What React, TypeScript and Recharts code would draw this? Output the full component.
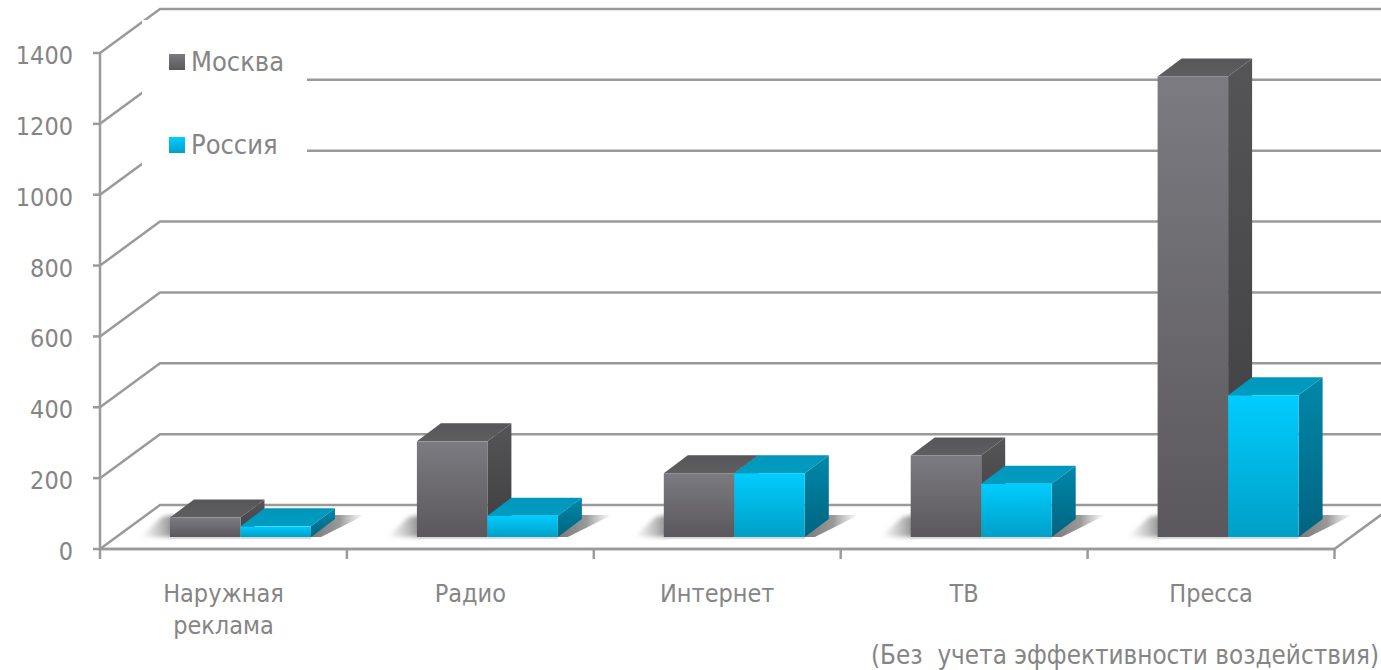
import { Bar, BarChart, CartesianGrid, Legend, XAxis, YAxis } from "recharts";

const categories = ["Наружная реклама", "Радио", "Интернет", "ТВ", "Пресса"];
const moscowValues = [55, 270, 180, 230, 1300];
const russiaValues = [30, 60, 180, 150, 400];
const yTicks = [0, 200, 400, 600, 800, 1000, 1200, 1400];

const data = categories.map((name, i) => ({
  name,
  moscow: moscowValues[i],
  russia: russiaValues[i],
}));

const FONT = "'DejaVu Sans Condensed', 'DejaVu Sans', sans-serif";
const TEXT = "#858585";
const LINE = "#9a9a9a";

// depth of the walls behind the plot
const WALL_DX = 60;
const WALL_DY = 44;
// bar box projection and where it stands on the floor
const BOX_DX = 24;
const BOX_DY = 18;
const SHIFT_X = 17;
const SHIFT_Y = 12;

type BoxProps = { x: number; y: number; width: number; height: number };

function box(id: string, side: "left" | "right") {
  return function Box3D({ x, y, width, height }: BoxProps) {
    const l = x + SHIFT_X;
    const r = l + width;
    const t = y - SHIFT_Y;
    const b = t + height;
    return (
      <g>
        {side === "left" ? (
          <polygon
            points={`${l + 4},${b} ${l - 30},${b} ${l - 8},${b - 20} ${l + 4},${b - 22}`}
            fill="url(#shadowLeft)"
            filter="url(#soften)"
          />
        ) : (
          <polygon
            points={`${r - 2},${b} ${r + BOX_DX - 2},${b - 22} ${r + BOX_DX + 30},${b - 22} ${r + 10},${b}`}
            fill="url(#shadowRight)"
          />
        )}
        <rect x={l} y={b} width={width} height={2} fill="#d9d9d9" />
        <polygon
          points={`${l},${t} ${l + BOX_DX},${t - BOX_DY} ${r + BOX_DX},${t - BOX_DY} ${r},${t}`}
          fill={`url(#${id}Top)`}
        />
        <polygon
          points={`${r},${t} ${r + BOX_DX},${t - BOX_DY} ${r + BOX_DX},${b - BOX_DY} ${r},${b}`}
          fill={`url(#${id}Side)`}
        />
        <rect x={l} y={t} width={width} height={height} fill={`url(#${id}Front)`} />
      </g>
    );
  };
}

// wall line: runs from the axis back along the side wall, then across the back wall
function WallLine({ x1, x2, y1 }: { x1: number; x2: number; y1: number }) {
  const isFloor = y1 > 540;
  const backY = y1 - WALL_DY;
  return (
    <g>
      <path
        d={`M${x1} ${y1}L${x1 + WALL_DX} ${backY}L${x2 + WALL_DX + 60} ${backY}`}
        fill="none"
        stroke={LINE}
        strokeWidth={2.5}
      />
      {isFloor && (
        <path
          d={`M${x1} ${y1}L${x2} ${y1}L${x2 + WALL_DX} ${backY}`}
          fill="none"
          stroke={LINE}
          strokeWidth={2.5}
        />
      )}
    </g>
  );
}

function CategoryTick({ x, y, index, payload }: any) {
  const half = payload.offset ?? 123.5;
  const words = String(payload.value).split(" ");
  return (
    <g>
      <line x1={x - half} x2={x - half} y1={y - 8} y2={y + 2} stroke={LINE} strokeWidth={2.5} />
      {index === categories.length - 1 && (
        <line x1={x + half} x2={x + half} y1={y - 8} y2={y + 2} stroke={LINE} strokeWidth={2.5} />
      )}
      <text x={x} y={y + 45} textAnchor="middle" fill={TEXT} fontSize={25} fontFamily={FONT}>
        {words.map((w, i) => (
          <tspan key={w} x={x} dy={i === 0 ? 0 : 32}>
            {w}
          </tspan>
        ))}
      </text>
    </g>
  );
}

function ValueTick({ x, y, payload }: any) {
  return (
    <text x={x} y={y + 11} textAnchor="end" fill={TEXT} fontSize={25} fontFamily={FONT}>
      {payload.value}
    </text>
  );
}

function LegendBox({ payload }: any) {
  return (
    <div style={{ width: 165, height: 145, background: "#fff", position: "relative" }}>
      {(payload ?? []).map((item: any, i: number) => (
        <div
          key={item.value}
          style={{
            position: "absolute",
            left: 27,
            top: 25 + i * 83,
            display: "flex",
            alignItems: "center",
            fontFamily: FONT,
            fontSize: 27,
            lineHeight: "34px",
            color: TEXT,
          }}
        >
          <span
            style={{
              width: 16,
              height: 16,
              marginRight: 6,
              background: i === 0 ? "linear-gradient(#7b7a80,#5a585c)" : "linear-gradient(#00ccff,#00a0c8)",
            }}
          />
          {item.value}
        </div>
      ))}
    </div>
  );
}

function Stops({ from, to }: { from: string; to: string }) {
  return (
    <>
      <stop offset="0%" stopColor={from} />
      <stop offset="100%" stopColor={to} />
    </>
  );
}

export default function App() {
  return (
    <div style={{ position: "absolute", left: 0, top: 0, width: 1381, height: 670, overflow: "hidden", background: "#fff" }}>
      <BarChart
        width={1381}
        height={670}
        data={data}
        margin={{ top: 53, right: 46.5, bottom: 0, left: 0 }}
        barSize={70.5}
        barGap={0}
      >
        <defs>
          <linearGradient id="moscowFront" x1="0" y1="0" x2="0" y2="1">
            <Stops from="#7c7b81" to="#5a585c" />
          </linearGradient>
          <linearGradient id="moscowTop" x1="0" y1="0" x2="0" y2="1">
            <Stops from="#565558" to="#5f5e61" />
          </linearGradient>
          <linearGradient id="moscowSide" x1="0" y1="0" x2="0" y2="1">
            <Stops from="#555457" to="#3e3d3f" />
          </linearGradient>
          <linearGradient id="russiaFront" x1="0" y1="0" x2="0" y2="1">
            <Stops from="#00cdff" to="#009fc6" />
          </linearGradient>
          <linearGradient id="russiaTop" x1="0" y1="0" x2="0" y2="1">
            <Stops from="#0096b9" to="#009dc2" />
          </linearGradient>
          <linearGradient id="russiaSide" x1="0" y1="0" x2="0" y2="1">
            <Stops from="#0088aa" to="#006480" />
          </linearGradient>
          <linearGradient id="shadowRight" x1="0" y1="0" x2="1" y2="0">
            <stop offset="0%" stopColor="#707070" stopOpacity={0.95} />
            <stop offset="55%" stopColor="#808080" stopOpacity={0.8} />
            <stop offset="100%" stopColor="#a0a0a0" stopOpacity={0} />
          </linearGradient>
          <linearGradient id="shadowLeft" x1="1" y1="0" x2="0" y2="0">
            <stop offset="0%" stopColor="#6a6a6a" stopOpacity={0.8} />
            <stop offset="100%" stopColor="#999" stopOpacity={0} />
          </linearGradient>
          <filter id="soften" x="-20%" y="-20%" width="140%" height="140%">
            <feGaussianBlur stdDeviation="2" />
          </filter>
        </defs>
        <CartesianGrid vertical={false} horizontal={(props: any) => <WallLine key={props.y1} {...props} />} />
        <XAxis
          dataKey="name"
          height={121}
          interval={0}
          tickLine={false}
          axisLine={{ stroke: LINE, strokeWidth: 2.5 }}
          tick={<CategoryTick />}
        />
        <YAxis
          width={100}
          domain={[0, 1400]}
          ticks={yTicks}
          interval={0}
          tickSize={7}
          tickMargin={20}
          axisLine={{ stroke: LINE, strokeWidth: 2.5 }}
          tickLine={{ stroke: LINE, strokeWidth: 2.5 }}
          tick={<ValueTick />}
        />
        <Legend
          layout="vertical"
          align="center"
          verticalAlign="middle"
          content={<LegendBox />}
          wrapperStyle={{ left: 142, top: 20, width: 165, height: 145 }}
        />
        <Bar dataKey="moscow" name="Москва" isAnimationActive={false} shape={box("moscow", "left") as any} />
        <Bar dataKey="russia" name="Россия" isAnimationActive={false} shape={box("russia", "right") as any} />
      </BarChart>
      <div
        style={{
          position: "absolute",
          right: 2,
          top: 640,
          fontFamily: FONT,
          fontSize: 25.8,
          lineHeight: "30px",
          color: TEXT,
          whiteSpace: "pre",
        }}
      >
        (Без  учета эффективности воздействия)
      </div>
    </div>
  );
}
